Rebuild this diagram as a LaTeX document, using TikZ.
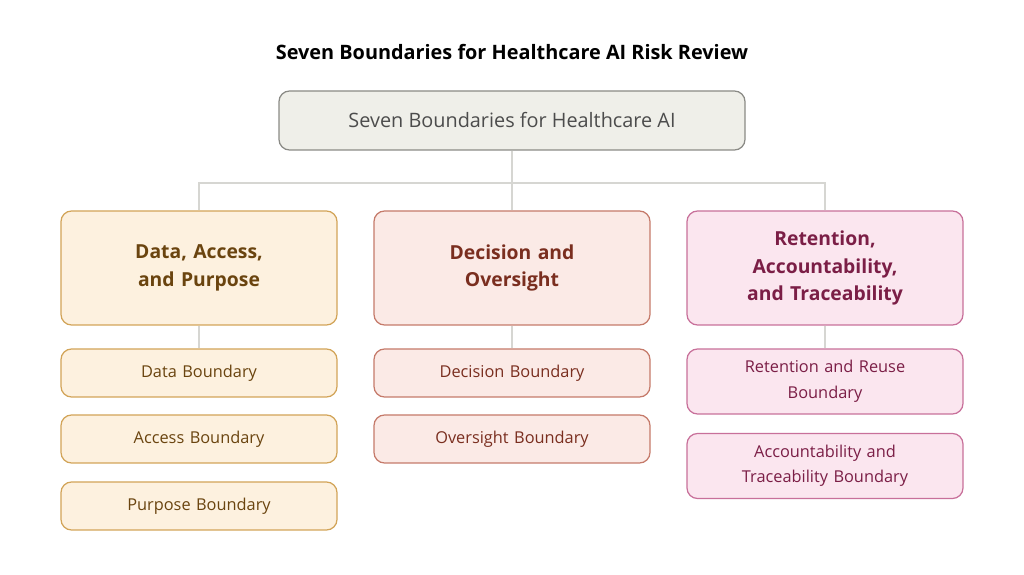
\documentclass[tikz,border=0pt]{standalone}
\usepackage{fontspec}
\setmainfont{Open Sans}
\definecolor{rootfill}{HTML}{EFEFE9}
\definecolor{rootdraw}{HTML}{8A8A85}
\definecolor{linkgray}{HTML}{D6D6D2}
\definecolor{dapfill}{HTML}{FDF1DF}
\definecolor{dapdraw}{HTML}{D2A458}
\definecolor{daptext}{HTML}{6A440F}
\definecolor{dofill}{HTML}{FBEAE6}
\definecolor{dodraw}{HTML}{C57A6A}
\definecolor{dotext}{HTML}{7A2E1F}
\definecolor{ratfill}{HTML}{FBE6EF}
\definecolor{ratdraw}{HTML}{C8709A}
\definecolor{rattext}{HTML}{7B1E46}
\begin{document}
\begin{tikzpicture}
[
box/.style={draw,rounded corners=6pt,line width=0.7pt,align=center,inner sep=2pt},
group/.style 2 args={box,fill=#1fill,draw=#1draw,text=#1text,font=\bfseries\fontsize{11}{15.5}\selectfont,minimum width=5.52cm,minimum height=2.28cm,text width=5.2cm},
leaf/.style 2 args={box,fill=#1fill,draw=#1draw,text=#1text,font=\fontsize{9.3}{14.5}\selectfont,minimum width=5.52cm,minimum height=#2,text width=5.2cm},
link/.style={draw=linkgray,line width=0.6pt},
]
\useasboundingbox (0,0) rectangle (20.48,-11.5);

%Title and root
\node[font=\bfseries\fontsize{11.3}{13}\selectfont] (title) at (10.24,-1.04) {Seven Boundaries for Healthcare AI Risk Review};
\node[box,fill=rootfill,draw=rootdraw,text=black!70,font=\fontsize{11.3}{13}\selectfont,minimum width=9.32cm,minimum height=1.18cm] (root) at (10.24,-2.41) {Seven Boundaries for Healthcare AI};

%Place the groups
\node[group={dap}{}] (dap) at (3.98,-5.36) {Data, Access,\\and Purpose};
\node[group={do}{}] (do) at (10.24,-5.36) {Decision and\\Oversight};
\node[group={rat}{}] (rat) at (16.5,-5.36) {Retention,\\Accountability,\\and Traceability};

%Place the leaves
\node[leaf={dap}{0.96cm}] (data) at (3.98,-7.46) {Data Boundary};
\node[leaf={dap}{0.96cm}] (access) at (3.98,-8.78) {Access Boundary};
\node[leaf={dap}{0.96cm}] (purpose) at (3.98,-10.12) {Purpose Boundary};
\node[leaf={do}{0.96cm}] (decision) at (10.24,-7.46) {Decision Boundary};
\node[leaf={do}{0.96cm}] (oversight) at (10.24,-8.78) {Oversight Boundary};
\node[leaf={rat}{1.3cm}] (retention) at (16.5,-7.63) {Retention and Reuse\\Boundary};
\node[leaf={rat}{1.3cm}] (account) at (16.5,-9.32) {Accountability and\\Traceability Boundary};

%Draw the connections
\coordinate (bus) at (10.24,-3.66);
\path[link] (root) -- (bus);
\path[link] (dap.north) |- (bus) -| (rat.north);
\path[link] (bus) -- (do.north);
\path[link] (dap) -- (data);
\path[link] (do) -- (decision);
\path[link] (rat) -- (retention);
\end{tikzpicture}
\end{document}
